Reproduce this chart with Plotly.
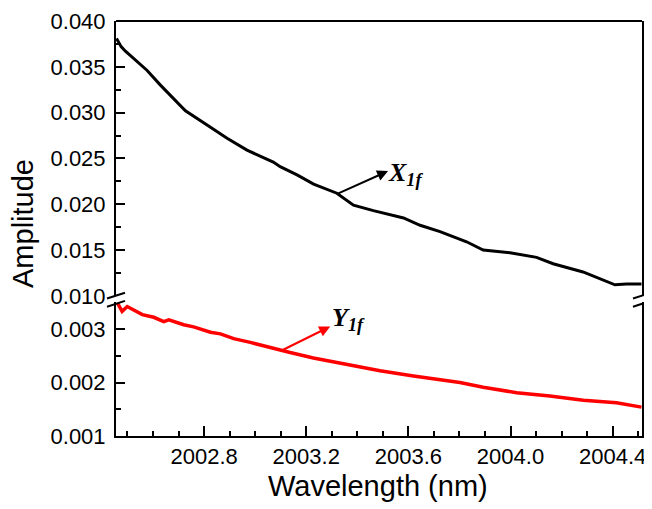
import plotly.graph_objects as go

# X1f (black, upper panel)
x1f_wl = [2002.457, 2002.475, 2002.492, 2002.524, 2002.577, 2002.629, 2002.727, 2002.825,
          2002.890, 2002.968, 2003.030, 2003.071, 2003.098, 2003.164, 2003.229, 2003.320,
          2003.385, 2003.463, 2003.581, 2003.646, 2003.724, 2003.802, 2003.828, 2003.893,
          2003.998, 2004.102, 2004.167, 2004.284, 2004.350, 2004.409, 2004.454, 2004.513]
x1f_amp = [0.0381, 0.0372, 0.0367, 0.0359, 0.0346, 0.0330, 0.0302, 0.0284,
           0.0272, 0.0259, 0.0251, 0.0246, 0.0241, 0.0232, 0.0222, 0.0212,
           0.0199, 0.0193, 0.0185, 0.0177, 0.0170, 0.0162, 0.0159, 0.0150,
           0.0147, 0.0142, 0.0135, 0.0126, 0.0119, 0.0112, 0.0113, 0.0113]

# Y1f (red, lower panel)
y1f_wl = [2002.460, 2002.479, 2002.499, 2002.558, 2002.603, 2002.642, 2002.662, 2002.720,
          2002.759, 2002.825, 2002.864, 2002.916, 2002.981, 2003.059, 2003.137, 2003.228,
          2003.359, 2003.489, 2003.620, 2003.802, 2003.893, 2004.024, 2004.154, 2004.285,
          2004.415, 2004.513]
y1f_amp = [0.00349, 0.00333, 0.00342, 0.00327, 0.00322, 0.00314, 0.00317, 0.00308,
           0.00304, 0.00294, 0.00291, 0.00282, 0.00275, 0.00265, 0.00256, 0.00246,
           0.00234, 0.00222, 0.00212, 0.00200, 0.00191, 0.00181, 0.00175, 0.00167,
           0.00162, 0.00154]

x_tickvals = [2002.8, 2003.2, 2003.6, 2004.0, 2004.4]
upper_ticks = [0.010, 0.015, 0.020, 0.025, 0.030, 0.035, 0.040]
lower_ticks = [0.001, 0.002, 0.003]

FONT = "Liberation Sans"
TICKSZ = 22
TITLESZ = 29

fig = go.Figure()
fig.add_trace(go.Scatter(x=x1f_wl, y=x1f_amp, mode="lines", xaxis="x", yaxis="y2",
                         line=dict(color="black", width=3), showlegend=False))
fig.add_trace(go.Scatter(x=y1f_wl, y=y1f_amp, mode="lines", xaxis="x", yaxis="y",
                         line=dict(color="red", width=3.5), showlegend=False))

# page has an 8px body margin; size the figure to fill the rest of the window
OFF = 8
W, H = 652 - OFF, 509 - OFF
PL, PR, PT, PB = 116, 642, 21, 436  # plot area in page pixels
ml, mr, mt, mb = PL - OFF, W - (PR - OFF), PT - OFF, H - (PB - OFF)
pw, ph = W - ml - mr, H - mt - mb

def py(p):  # page pixel y -> paper
    return (PB - p) / ph

def px(p):  # page pixel x -> paper
    return (p - PL) / pw

upper_dom = [py(295.8), 1.0]
lower_dom = [0.0, py(302.3)]

axis_common = dict(showline=True, linecolor="black", linewidth=2, mirror=True,
                   ticks="inside", ticklen=9, tickwidth=2, tickcolor="black",
                   showgrid=False, zeroline=False,
                   tickfont=dict(family=FONT, size=TICKSZ, color="black"))

fig.update_layout(
    width=W, height=H,
    margin=dict(l=ml, r=mr, t=mt, b=mb, pad=0, autoexpand=False),
    paper_bgcolor="white", plot_bgcolor="white",
    font=dict(family=FONT, color="black"),
    xaxis=dict(range=[2002.455, 2004.515], anchor="y", tickvals=x_tickvals,
               ticktext=[f"{v:.1f}" for v in x_tickvals],
               showline=True, linecolor="black", linewidth=2, mirror=False,
               ticks="inside", ticklen=10, tickwidth=2, tickcolor="black",
               showgrid=False, zeroline=False,
               tickfont=dict(family=FONT, size=TICKSZ, color="black"),
               minor=dict(ticks="inside", ticklen=5, tickwidth=2, tickcolor="black",
                          dtick=0.1, tick0=2002.8, showgrid=False)),
    yaxis=dict(domain=lower_dom, range=[0.001, 0.0035], anchor="x",
               tickvals=lower_ticks, ticktext=[f"{v:.3f}" for v in lower_ticks],
               minor=dict(ticks="inside", ticklen=5, tickwidth=2, tickcolor="black",
                          dtick=0.0005, tick0=0.001, showgrid=False),
               ticklabelstandoff=4,
               **axis_common),
    yaxis2=dict(domain=upper_dom, range=[0.010, 0.040], anchor="x",
                tickvals=upper_ticks, ticktext=[f"{v:.3f}" for v in upper_ticks],
                minor=dict(ticks="inside", ticklen=5, tickwidth=2, tickcolor="black",
                           dtick=0.0025, tick0=0.010, showgrid=False),
                ticklabelstandoff=4,
                **axis_common),
)

shapes = []
# top frame line
shapes.append(dict(type="line", xref="paper", yref="paper", x0=0, x1=1, y0=1, y1=1,
                   line=dict(color="black", width=2)))
# break marks
for cx in (PL, PR):
    for (ya, yb) in ((298.5, 292.7), (306.7, 300.9)):
        shapes.append(dict(type="line", xref="paper", yref="paper",
                           x0=px(cx - 9), x1=px(cx + 9), y0=py(ya), y1=py(yb),
                           line=dict(color="black", width=2)))
fig.update_layout(shapes=shapes)

annots = []
# axis titles
annots.append(dict(text="Amplitude", xref="paper", yref="paper", x=px(23), y=py(224),
                   textangle=-90, showarrow=False, xanchor="center", yanchor="middle",
                   font=dict(family=FONT, size=TITLESZ, color="black")))
annots.append(dict(text="Wavelength (nm)", xref="paper", yref="paper", x=px(378), y=py(486),
                   showarrow=False, xanchor="center", yanchor="middle",
                   font=dict(family=FONT, size=TITLESZ, color="black")))
# arrows
annots.append(dict(text="", x=2003.5206, y=0.02362, xref="x", yref="y2",
                   ax=2003.320, ay=0.0211, axref="x", ayref="y2", showarrow=True,
                   arrowhead=2, arrowsize=1.1, arrowwidth=2, arrowcolor="black", standoff=0))
annots.append(dict(text="", x=2003.294, y=0.003048, xref="x", yref="y",
                   ax=2003.098, ay=0.002585, axref="x", ayref="y", showarrow=True,
                   arrowhead=2, arrowsize=1.1, arrowwidth=2, arrowcolor="red", standoff=0))
# labels
SERIF = "Liberation Serif"
annots.append(dict(text="<b><i>X<sub>1f</sub></i></b>", x=2003.514, y=0.0233,
                   xref="x", yref="y2", showarrow=False, xanchor="left", yanchor="middle",
                   font=dict(family=SERIF, size=26, color="black")))
annots.append(dict(text="<b><i>Y<sub>1f</sub></i></b>", x=2003.294, y=0.00318,
                   xref="x", yref="y", showarrow=False, xanchor="left", yanchor="middle",
                   font=dict(family=SERIF, size=26, color="black")))
fig.update_layout(annotations=annots)

fig.write_html("out.html")
